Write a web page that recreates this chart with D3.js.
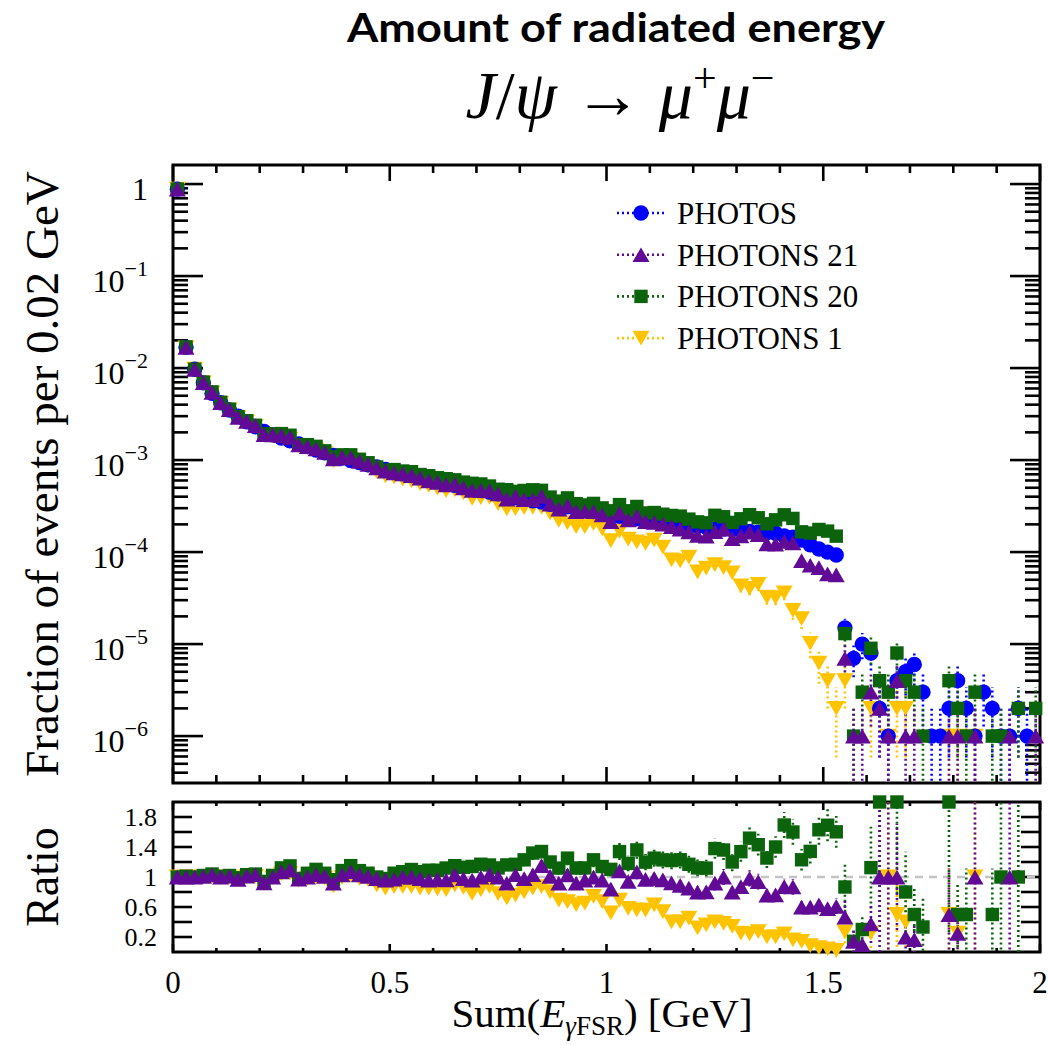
<!DOCTYPE html>
<html lang="en">
<head>
<meta charset="UTF-8">
<script src="https://d3js.org/d3.v7.min.js"></script>
<style>
  body { margin: 0; background: #fff; }
  svg text { font-family: "Liberation Serif", "Times New Roman", serif; fill: #000; }
</style>
</head>
<body>
<svg id="chart" width="1048" height="1045"></svg>
<script>
// histogram: 100 bins of 0.02 GeV between 0 and 2 GeV, normalised to 1e6 events
const binWidth = 0.02;
const nEvents = 1e6;
const binCenters = d3.range(100).map(i => binWidth * (i + 0.5));

const photos = [
  0.88, 0.0168, 0.0097, 0.0069, 0.0053, 0.0042, 0.0035, 0.0030, 0.0026, 0.0023,
  2.05e-3, 1.88e-3, 1.73e-3, 1.62e-3, 1.50e-3, 1.40e-3, 1.28e-3, 1.20e-3, 1.12e-3, 1.05e-3,
  9.9e-4, 9.4e-4, 8.9e-4, 8.4e-4, 7.9e-4, 7.5e-4, 7.1e-4, 6.8e-4, 6.5e-4, 6.2e-4,
  5.9e-4, 5.6e-4, 5.3e-4, 5.1e-4, 4.9e-4, 4.7e-4, 4.5e-4, 4.3e-4, 4.1e-4, 3.9e-4,
  3.8e-4, 3.6e-4, 3.5e-4, 3.3e-4, 3.2e-4, 3.1e-4, 3.0e-4, 2.9e-4, 2.75e-4, 2.65e-4,
  2.55e-4, 2.45e-4, 2.38e-4, 2.30e-4, 2.22e-4, 2.15e-4, 2.10e-4, 2.05e-4, 2.00e-4, 1.95e-4,
  1.90e-4, 1.86e-4, 1.82e-4, 1.78e-4, 1.75e-4, 1.72e-4, 1.68e-4, 1.65e-4, 1.62e-4, 1.60e-4,
  1.50e-4, 1.45e-4, 1.35e-4, 1.20e-4, 1.08e-4, 1.00e-4, 9.3e-5, 1.5e-5, 7e-6, 1e-5,
  8e-6, 2e-6, 1e-6, 4e-6, 5e-6, 6e-6, 3e-6, 1e-6, 1e-6, 2e-6,
  4e-6, 2e-6, 1e-6, 3e-6, 2e-6, 1e-6, 1e-6, 2e-6, 1e-6, 0
];
const photons21 = [
  0.88, 0.0168, 0.0097, 6.97e-3, 5.46e-3, 4.2e-3, 3.54e-3, 2.91e-3, 2.63e-3, 2.37e-3,
  1.89e-3, 1.88e-3, 1.85e-3, 1.77e-3, 1.46e-3, 1.40e-3, 1.32e-3, 1.21e-3, 1.03e-3, 1.08e-3,
  1.06e-3, 9.68e-4, 8.99e-4, 8.23e-4, 7.58e-4, 7.28e-4, 7.1e-4, 6.8e-4, 6.37e-4, 5.95e-4,
  5.72e-4, 5.38e-4, 5.46e-4, 5.00e-4, 4.70e-4, 4.70e-4, 4.64e-4, 4.30e-4, 3.77e-4, 4.02e-4,
  3.72e-4, 3.71e-4, 4.03e-4, 3.33e-4, 2.94e-4, 3.19e-4, 2.76e-4, 2.78e-4, 2.75e-4, 2.54e-4,
  2.14e-4, 2.65e-4, 2.24e-4, 2.46e-4, 2.15e-4, 2.11e-4, 2.02e-4, 1.89e-4, 1.78e-4, 1.66e-4,
  1.52e-4, 1.49e-4, 1.67e-4, 1.78e-4, 1.40e-4, 1.50e-4, 1.65e-4, 1.55e-4, 1.23e-4, 1.22e-4,
  1.31e-4, 1.26e-4, 8.1e-5, 7.2e-5, 6.8e-5, 5.8e-5, 5.67e-5, 7e-6, 1e-6, 1e-6,
  3e-6, 2e-6, 1e-6, 4e-6, 1e-6, 1e-6, 0, 0, 0, 1e-6,
  1e-6, 0, 1e-6, 0, 0, 0, 1e-6, 0, 0, 1e-6
];
const photons20 = [
  0.88, 0.0170, 0.0097, 7.04e-3, 5.51e-3, 4.24e-3, 3.57e-3, 2.97e-3, 2.68e-3, 2.39e-3,
  1.93e-3, 1.92e-3, 1.94e-3, 1.86e-3, 1.47e-3, 1.47e-3, 1.41e-3, 1.26e-3, 1.08e-3, 1.14e-3,
  1.14e-3, 1.02e-3, 9.35e-4, 8.4e-4, 7.74e-4, 7.88e-4, 7.60e-4, 7.48e-4, 6.96e-4, 6.76e-4,
  6.43e-4, 6.27e-4, 6.10e-4, 5.76e-4, 5.59e-4, 5.50e-4, 5.22e-4, 4.82e-4, 4.76e-4, 4.56e-4,
  4.67e-4, 4.75e-4, 4.69e-4, 3.96e-4, 3.58e-4, 3.88e-4, 3.36e-4, 3.25e-4, 3.38e-4, 3.02e-4,
  2.81e-4, 3.28e-4, 2.81e-4, 3.13e-4, 2.66e-4, 2.69e-4, 2.58e-4, 2.50e-4, 2.46e-4, 2.28e-4,
  2.13e-4, 2.08e-4, 2.51e-4, 2.42e-4, 2.10e-4, 2.30e-4, 2.55e-4, 2.36e-4, 2.03e-4, 2.24e-4,
  2.54e-4, 2.32e-4, 1.66e-4, 1.61e-4, 1.76e-4, 1.69e-4, 1.49e-4, 1.3e-5, 1e-6, 3e-6,
  9e-6, 4e-6, 3e-6, 8e-6, 4e-6, 3e-6, 1e-6, 0, 0, 4e-6,
  2e-6, 1e-6, 3e-6, 0, 1e-6, 1e-6, 0, 2e-6, 0, 2e-6
];
const photons1 = [
  0.88, 0.0166, 0.0097, 6.9e-3, 5.35e-3, 4.16e-3, 3.5e-3, 2.88e-3, 2.6e-3, 2.32e-3,
  1.87e-3, 1.86e-3, 1.80e-3, 1.70e-3, 1.43e-3, 1.37e-3, 1.28e-3, 1.18e-3, 9.86e-4, 1.04e-3,
  1.01e-3, 9.21e-4, 8.54e-4, 7.48e-4, 6.72e-4, 6.53e-4, 6.18e-4, 5.92e-4, 5.53e-4, 5.27e-4,
  4.96e-4, 4.65e-4, 4.72e-4, 4.39e-4, 3.82e-4, 3.90e-4, 3.92e-4, 3.35e-4, 2.95e-4, 2.96e-4,
  3.04e-4, 3.06e-4, 3.05e-4, 2.64e-4, 2.21e-4, 2.08e-4, 1.89e-4, 1.89e-4, 2.04e-4, 1.78e-4,
  1.33e-4, 1.69e-4, 1.38e-4, 1.29e-4, 1.24e-4, 1.35e-4, 1.13e-4, 8.2e-5, 8.0e-5, 8.78e-5,
  6.08e-5, 6.7e-5, 7.28e-5, 6.76e-5, 5.95e-5, 4.3e-5, 4.03e-5, 4.46e-5, 3.24e-5, 3.2e-5,
  3.6e-5, 2.32e-5, 1.89e-5, 1.02e-5, 6.2e-6, 4e-6, 2e-6, 4e-6, 0, 0,
  2e-6, 0, 1e-6, 2e-6, 2e-6, 0, 0, 0, 0, 1e-6,
  1e-6, 0, 1e-6, 0, 0, 0, 0, 0, 0, 0
];

const xTickLabels = ["0", "0.5", "1", "1.5", "2"];
const yDecades = [0, -1, -2, -3, -4, -5, -6];
const ratioTickLabels = ["0.2", "0.6", "1", "1.4", "1.8"];

// drawing order: last one ends on top
const series = [
  { name: "PHOTONS 1", values: photons1, color: "#ffc300", shape: "down" },
  { name: "PHOTOS", values: photos, color: "#0000ff", shape: "circle" },
  { name: "PHOTONS 20", values: photons20, color: "#0b640b", shape: "square" },
  { name: "PHOTONS 21", values: photons21, color: "#600a96", shape: "up" }
];
const legendNames = ["PHOTOS", "PHOTONS 21", "PHOTONS 20", "PHOTONS 1"];

const left = 173, right = 1040;
const top1 = 165, bot1 = 783, top2 = 802, bot2 = 952;

const svg = d3.select("#chart");
const x = d3.scaleLinear().domain([0, 2]).range([left, right]);
const yMin = Math.pow(10, -6.51), yMax = Math.pow(10, 0.207);
const y = d3.scaleLog().domain([yMin, yMax]).range([bot1, top1]);
const yr = d3.scaleLinear().domain([0, 2]).range([bot2, top2]);

const defs = svg.append("defs");
defs.append("clipPath").attr("id", "clipTop")
  .append("rect").attr("x", left).attr("y", top1).attr("width", right - left).attr("height", bot1 - top1);
defs.append("clipPath").attr("id", "clipRatio")
  .append("rect").attr("x", left).attr("y", top2).attr("width", right - left).attr("height", bot2 - top2);

function marker(shape) {
  if (shape === "circle") return d3.symbol(d3.symbolCircle, 185)();
  if (shape === "square") return d3.symbol(d3.symbolSquare, 180)();
  return d3.symbol(d3.symbolTriangle, 125)();
}
function markerTransform(px, py, shape) {
  if (shape === "up") return `translate(${px},${py + 2.5})`;
  if (shape === "down") return `translate(${px},${py - 2.5}) rotate(180)`;
  return `translate(${px},${py})`;
}

// ---------- titles ----------
svg.append("text")
  .attr("x", 616).attr("y", 42)
  .attr("text-anchor", "middle")
  .attr("textLength", 538).attr("lengthAdjust", "spacingAndGlyphs")
  .style("font-family", "Lato, 'Open Sans', sans-serif")
  .style("font-weight", "bold")
  .style("font-size", "40px")
  .text("Amount of radiated energy");

const formula = svg.append("text")
  .attr("x", 620).attr("y", 118)
  .attr("text-anchor", "middle")
  .style("font-size", "68px");
formula.append("tspan").style("font-style", "italic").text("J");
formula.append("tspan").text("/");
formula.append("tspan").style("font-style", "italic").text("ψ");
formula.append("tspan").text(" → ");
formula.append("tspan").style("font-style", "italic").text("μ");
formula.append("tspan").attr("dy", -26).style("font-size", "42px").text("+");
formula.append("tspan").attr("dy", 26).style("font-style", "italic").text("μ");
formula.append("tspan").attr("dy", -26).style("font-size", "42px").text("−");

// ---------- frames & ticks ----------
const axes = svg.append("g").attr("stroke", "#000").attr("stroke-width", 2.6);

function drawXTicks(yBottom, yTop, majorLen, minorLen) {
  d3.range(0, 21).forEach(k => {
    const v = k / 10;
    const len = k % 5 === 0 ? majorLen : minorLen;
    axes.append("line").attr("x1", x(v)).attr("x2", x(v)).attr("y1", yBottom).attr("y2", yBottom - len);
    axes.append("line").attr("x1", x(v)).attr("x2", x(v)).attr("y1", yTop).attr("y2", yTop + len);
  });
}
drawXTicks(bot1, top1, 16, 8);
drawXTicks(bot2, top2, 8, 4);

// log ticks, top panel
d3.range(-7, 1).forEach(d => {
  d3.range(1, 10).forEach(k => {
    const v = k * Math.pow(10, d);
    if (v < yMin || v > yMax) return;
    const len = k === 1 ? 30 : 15;
    axes.append("line").attr("x1", left).attr("x2", left + len).attr("y1", y(v)).attr("y2", y(v));
    axes.append("line").attr("x1", right).attr("x2", right - len).attr("y1", y(v)).attr("y2", y(v));
  });
});

// ratio ticks
d3.range(1, 10).forEach(k => {
  const v = k * 0.2;
  axes.append("line").attr("x1", left).attr("x2", left + 19).attr("y1", yr(v)).attr("y2", yr(v));
  axes.append("line").attr("x1", right).attr("x2", right - 19).attr("y1", yr(v)).attr("y2", yr(v));
});

svg.append("rect").attr("x", left).attr("y", top1).attr("width", right - left).attr("height", bot1 - top1)
  .attr("fill", "none").attr("stroke", "#000").attr("stroke-width", 3);
svg.append("rect").attr("x", left).attr("y", top2).attr("width", right - left).attr("height", bot2 - top2)
  .attr("fill", "none").attr("stroke", "#000").attr("stroke-width", 3);

// reference line in ratio
svg.append("line")
  .attr("x1", left).attr("x2", right).attr("y1", yr(1)).attr("y2", yr(1))
  .attr("stroke", "#c4c4c4").attr("stroke-width", 2.5).attr("stroke-dasharray", "8,6");

// ---------- tick labels ----------
yDecades.forEach(d => {
  const t = svg.append("text")
    .attr("x", 148).attr("y", y(Math.pow(10, d)) + 16)
    .attr("text-anchor", "end")
    .style("font-size", "32px");
  if (d === 0) {
    t.text("1");
  } else {
    t.append("tspan").text("10");
    t.append("tspan").attr("dy", -16).style("font-size", "22px").text("−" + (-d));
  }
});

xTickLabels.forEach(s => {
  svg.append("text")
    .attr("x", x(+s)).attr("y", 993)
    .attr("text-anchor", "middle")
    .style("font-size", "31px")
    .text(s);
});

ratioTickLabels.forEach(s => {
  svg.append("text")
    .attr("x", 157).attr("y", yr(+s) + 9)
    .attr("text-anchor", "end")
    .style("font-size", "26px")
    .text(s);
});

// ---------- axis titles ----------
svg.append("text")
  .attr("transform", `translate(58,${(top1 + bot1) / 2}) rotate(-90)`)
  .attr("text-anchor", "middle")
  .style("font-size", "47px")
  .text("Fraction of events per 0.02 GeV");

svg.append("text")
  .attr("transform", `translate(58,${(top2 + bot2) / 2}) rotate(-90)`)
  .attr("text-anchor", "middle")
  .style("font-size", "46px")
  .text("Ratio");

const xTitle = svg.append("text")
  .attr("x", 602).attr("y", 1027)
  .attr("text-anchor", "middle")
  .style("font-size", "41px");
xTitle.append("tspan").text("Sum(");
xTitle.append("tspan").style("font-style", "italic").text("E");
xTitle.append("tspan").attr("dy", 8).style("font-size", "27px").style("font-style", "italic").text("γ");
xTitle.append("tspan").style("font-size", "27px").text("FSR");
xTitle.append("tspan").attr("dy", -8).text(") [GeV]");

// ---------- data ----------
const errTop = svg.append("g").attr("clip-path", "url(#clipTop)");
const errRatio = svg.append("g").attr("clip-path", "url(#clipRatio)");
const marksTop = svg.append("g");
const marksRatio = svg.append("g");

series.forEach(s => {
  const pts = binCenters.map((c, i) => ({ c, v: s.values[i] })).filter(d => d.v > 0);

  errTop.selectAll(null).data(pts).enter().append("line")
    .attr("x1", d => x(d.c)).attr("x2", d => x(d.c))
    .attr("y1", d => y(Math.max(d.v - Math.sqrt(d.v / nEvents), yMin * 0.5)))
    .attr("y2", d => y(d.v + Math.sqrt(d.v / nEvents)))
    .attr("stroke", s.color).attr("stroke-width", 2.6).attr("stroke-dasharray", "2,3");

  marksTop.selectAll(null).data(pts).enter().append("path")
    .attr("d", marker(s.shape))
    .attr("transform", d => markerTransform(x(d.c), y(d.v), s.shape))
    .attr("fill", s.color);

  if (s.values === photos) return;

  const rpts = binCenters.map((c, i) => {
    const v = s.values[i], p = photos[i];
    if (!(v > 0) || !(p > 0)) return null;
    const r = v / p;
    const e = r * Math.sqrt(1 / (v * nEvents) + 1 / (p * nEvents));
    return { c, r, e };
  }).filter(d => d && d.r <= 2.001);

  errRatio.selectAll(null).data(rpts).enter().append("line")
    .attr("x1", d => x(d.c)).attr("x2", d => x(d.c))
    .attr("y1", d => yr(Math.max(d.r - d.e, -0.1)))
    .attr("y2", d => yr(Math.min(d.r + d.e, 2.1)))
    .attr("stroke", s.color).attr("stroke-width", 2.6).attr("stroke-dasharray", "2,3");

  marksRatio.selectAll(null).data(rpts).enter().append("path")
    .attr("d", marker(s.shape))
    .attr("transform", d => markerTransform(x(d.c), yr(Math.min(d.r, 2)), s.shape))
    .attr("fill", s.color);
});

// ---------- legend ----------
const legend = svg.append("g");
legendNames.forEach((name, k) => {
  const s = series.find(d => d.name === name);
  const ly = 213 + k * 41.7;
  legend.append("line")
    .attr("x1", 617).attr("x2", 665).attr("y1", ly).attr("y2", ly)
    .attr("stroke", s.color).attr("stroke-width", 2.6).attr("stroke-dasharray", "2,3");
  legend.append("path")
    .attr("d", marker(s.shape))
    .attr("transform", markerTransform(641, ly, s.shape))
    .attr("fill", s.color);
  legend.append("text")
    .attr("x", 677).attr("y", ly + 11)
    .style("font-size", "31px")
    .text(name);
});
</script>
</body>
</html>
